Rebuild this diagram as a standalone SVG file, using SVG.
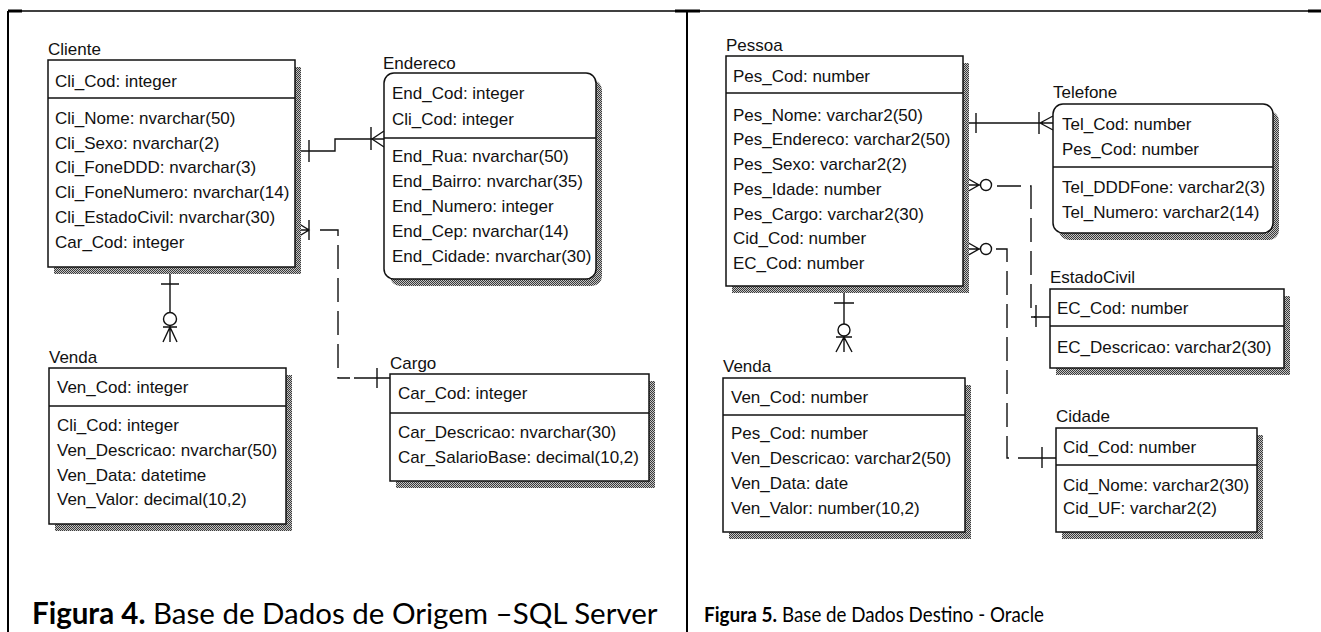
<svg xmlns="http://www.w3.org/2000/svg" width="1321" height="632" viewBox="0 0 1321 632">
<defs>
<pattern id="hatch" width="2" height="2" patternUnits="userSpaceOnUse"><rect width="2" height="2" fill="#c4c4c4"/><rect width="1" height="1" fill="#3a3a3a"/><rect x="1" y="1" width="1" height="1" fill="#3a3a3a"/></pattern>
<style>
.t{font-family:"Liberation Sans",Arial,sans-serif;font-size:17px;fill:#111}
.box{fill:#fff;stroke:#111;stroke-width:1.5}
.sh{fill:url(#hatch)}
.dv{stroke:#111;stroke-width:1.5}
.ln{fill:none;stroke:#111;stroke-width:1.4}
.dash{stroke-dasharray:24 9}
.cc{fill:#fff;stroke:#111;stroke-width:1.4}
.cap{font-family:Lato,"Liberation Sans",sans-serif;fill:#000}
.b{font-weight:bold}
.fr{stroke:#000;fill:none}
</style>
</defs>
<rect width="1321" height="632" fill="#fff"/>
<g id="frame">
<path class="fr" d="M8,11H1321" stroke-width="1.5"/>
<path class="fr" d="M8,11H22M675,11H700M1308,11H1321" stroke-width="3"/>
<path class="fr" d="M8,11V632" stroke-width="2"/>
<path class="fr" d="M687,11V632" stroke-width="2"/>
</g>
<g id="connectors">
<path class="ln" d="M295,151H335V139H384"/>
<path class="ln" d="M309,140V162M371,127V150M372,139L384,131M372,139L384,147"/>
<path class="ln" d="M296,222L309,230L296,238M295,230H309M309,220V240"/>
<path class="ln dash" d="M320,230H338V378H350"/>
<path class="ln" d="M354,378H390M377,368V388"/>
<path class="ln" d="M170,267V342M161,284H179M163,327H177M170,327L163,342M170,327L177,342"/>
<circle class="cc" cx="170" cy="319" r="6.5"/>
<path class="ln" d="M963,123H1053M976,113V133M1039,112V134M1040,123L1053,116M1040,123L1053,130"/>
<path class="ln" d="M965,177L979,185L965,193M963,185H980"/>
<circle class="cc" cx="986" cy="185" r="5.5"/>
<path class="ln dash" d="M997,186H1031V317H1036"/>
<path class="ln" d="M1034,317H1050M1036,305V327"/>
<path class="ln" d="M965,241L979,249L965,257M963,249H980"/>
<circle class="cc" cx="986" cy="249" r="5.5"/>
<path class="ln dash" d="M996,249H1007V458H1012"/>
<path class="ln" d="M1018,458H1056M1042,447V468"/>
<path class="ln" d="M844,286V352M834,303H854M836,337H852M844,337L836,352M844,337L852,352"/>
<circle class="cc" cx="844" cy="330" r="6"/>
</g>
<g id="cliente">
<text class="t" x="48" y="55">Cliente</text>
<rect class="sh" x="54" y="67" width="247" height="207"/>
<rect class="box" x="48" y="60" width="247" height="207"/>
<path class="dv" d="M48,98H295"/>
<text class="t" x="55" y="87">Cli_Cod: integer</text>
<text class="t" x="55" y="124">Cli_Nome: nvarchar(50)</text>
<text class="t" x="55" y="149">Cli_Sexo: nvarchar(2)</text>
<text class="t" x="55" y="173">Cli_FoneDDD: nvarchar(3)</text>
<text class="t" x="55" y="198">Cli_FoneNumero: nvarchar(14)</text>
<text class="t" x="55" y="223">Cli_EstadoCivil: nvarchar(30)</text>
<text class="t" x="55" y="248">Car_Cod: integer</text>
</g>
<g id="endereco">
<text class="t" x="383" y="69">Endereco</text>
<rect class="sh" x="390" y="80" width="212" height="206" rx="10"/>
<rect class="box" x="384" y="73" width="212" height="206" rx="10"/>
<path class="dv" d="M384,138H596"/>
<text class="t" x="392" y="99">End_Cod: integer</text>
<text class="t" x="392" y="125">Cli_Cod: integer</text>
<text class="t" x="392" y="162">End_Rua: nvarchar(50)</text>
<text class="t" x="392" y="187">End_Bairro: nvarchar(35)</text>
<text class="t" x="392" y="212">End_Numero: integer</text>
<text class="t" x="392" y="237">End_Cep: nvarchar(14)</text>
<text class="t" x="392" y="262">End_Cidade: nvarchar(30)</text>
</g>
<g id="cargo">
<text class="t" x="390" y="369">Cargo</text>
<rect class="sh" x="396" y="381" width="259" height="107"/>
<rect class="box" x="390" y="374" width="259" height="107"/>
<path class="dv" d="M390,413H649"/>
<text class="t" x="398" y="399">Car_Cod: integer</text>
<text class="t" x="398" y="438">Car_Descricao: nvarchar(30)</text>
<text class="t" x="398" y="463">Car_SalarioBase: decimal(10,2)</text>
</g>
<g id="venda-origem">
<text class="t" x="49" y="363">Venda</text>
<rect class="sh" x="55" y="375" width="237" height="156"/>
<rect class="box" x="49" y="368" width="237" height="156"/>
<path class="dv" d="M49,406H286"/>
<text class="t" x="57" y="393">Ven_Cod: integer</text>
<text class="t" x="57" y="431">Cli_Cod: integer</text>
<text class="t" x="57" y="456">Ven_Descricao: nvarchar(50)</text>
<text class="t" x="57" y="481">Ven_Data: datetime</text>
<text class="t" x="57" y="505">Ven_Valor: decimal(10,2)</text>
</g>
<g id="pessoa">
<text class="t" x="726" y="51">Pessoa</text>
<rect class="sh" x="732" y="63" width="237" height="230"/>
<rect class="box" x="726" y="56" width="237" height="230"/>
<path class="dv" d="M726,93H963"/>
<text class="t" x="733" y="82">Pes_Cod: number</text>
<text class="t" x="733" y="121">Pes_Nome: varchar2(50)</text>
<text class="t" x="733" y="145">Pes_Endereco: varchar2(50)</text>
<text class="t" x="733" y="170">Pes_Sexo: varchar2(2)</text>
<text class="t" x="733" y="195">Pes_Idade: number</text>
<text class="t" x="733" y="220">Pes_Cargo: varchar2(30)</text>
<text class="t" x="733" y="244">Cid_Cod: number</text>
<text class="t" x="733" y="269">EC_Cod: number</text>
</g>
<g id="telefone">
<text class="t" x="1053" y="98">Telefone</text>
<rect class="sh" x="1059" y="111" width="220" height="129" rx="10"/>
<rect class="box" x="1053" y="104" width="220" height="129" rx="10"/>
<path class="dv" d="M1053,167H1273"/>
<text class="t" x="1062" y="130">Tel_Cod: number</text>
<text class="t" x="1062" y="155">Pes_Cod: number</text>
<text class="t" x="1062" y="193">Tel_DDDFone: varchar2(3)</text>
<text class="t" x="1062" y="218">Tel_Numero: varchar2(14)</text>
</g>
<g id="estadocivil">
<text class="t" x="1050" y="283">EstadoCivil</text>
<rect class="sh" x="1056" y="296" width="234" height="79"/>
<rect class="box" x="1050" y="289" width="234" height="79"/>
<path class="dv" d="M1050,326H1284"/>
<text class="t" x="1057" y="314">EC_Cod: number</text>
<text class="t" x="1057" y="353">EC_Descricao: varchar2(30)</text>
</g>
<g id="cidade">
<text class="t" x="1056" y="422">Cidade</text>
<rect class="sh" x="1062" y="435" width="201" height="104"/>
<rect class="box" x="1056" y="428" width="201" height="104"/>
<path class="dv" d="M1056,465H1257"/>
<text class="t" x="1063" y="453">Cid_Cod: number</text>
<text class="t" x="1063" y="491">Cid_Nome: varchar2(30)</text>
<text class="t" x="1063" y="514">Cid_UF: varchar2(2)</text>
</g>
<g id="venda-destino">
<text class="t" x="723" y="372">Venda</text>
<rect class="sh" x="729" y="385" width="242" height="154"/>
<rect class="box" x="723" y="378" width="242" height="154"/>
<path class="dv" d="M723,415H965"/>
<text class="t" x="731" y="403">Ven_Cod: number</text>
<text class="t" x="731" y="439">Pes_Cod: number</text>
<text class="t" x="731" y="464">Ven_Descricao: varchar2(50)</text>
<text class="t" x="731" y="489">Ven_Data: date</text>
<text class="t" x="731" y="514">Ven_Valor: number(10,2)</text>
</g>
<g id="captions">
<text class="cap" x="32" y="624" font-size="29.5"><tspan class="b">Figura 4.</tspan> Base de Dados de Origem –SQL Server</text>
<text class="cap b" x="704" y="622" font-size="21" textLength="73" lengthAdjust="spacingAndGlyphs">Figura 5.</text>
<text class="cap" x="782" y="622" font-size="21" textLength="262" lengthAdjust="spacingAndGlyphs">Base de Dados Destino - Oracle</text>
</g>
</svg>
